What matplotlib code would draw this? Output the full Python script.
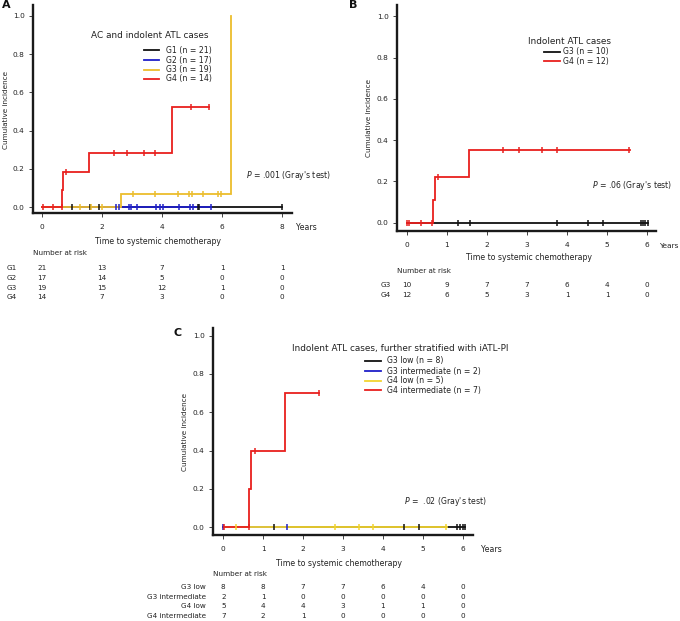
import matplotlib
matplotlib.use('Agg')
import matplotlib.pyplot as plt
import numpy as np
from matplotlib.transforms import blended_transform_factory

plt.rcParams['font.family'] = ['DejaVu Sans']

# ---------------- data ----------------
# Panel A: AC and indolent ATL cases
A_names = ['G1 (n = 21)', 'G2 (n = 17)', 'G3 (n = 19)', 'G4 (n = 14)']
A_G1_t = [0.0];                         A_G1_v = [0.0];                         A_G1_end = 8.0
A_G1_cens = [1.0, 1.6, 1.9, 5.2, 5.25, 8.0]
A_G2_t = [0.0];                         A_G2_v = [0.0];                         A_G2_end = 5.62
A_G2_cens = [2.47, 2.58, 2.89, 2.96, 3.16, 3.8, 3.93, 4.05, 4.58, 4.93, 5.02, 5.62]
A_G3_t = [0.0, 2.64, 6.29];             A_G3_v = [0.0, 0.066, 1.0];             A_G3_end = 6.29
A_G3_cens = [1.27, 1.65, 2.0, 3.02, 3.77, 4.53, 4.91, 5.0, 5.36, 5.87, 5.96]
A_G4_t = [0.0, 0.67, 0.70, 1.56, 4.33]; A_G4_v = [0.0, 0.09, 0.183, 0.283, 0.524]; A_G4_end = 5.58
A_G4_cens = [0.02, 0.36, 0.65, 0.8, 2.4, 2.82, 3.4, 3.76, 4.96, 5.56]
A_risk_times = [0, 2, 4, 6, 8]
A_risk_rows = ['G1', 'G2', 'G3', 'G4']
A_risk_G1 = [21, 13, 7, 1, 1]
A_risk_G2 = [17, 14, 5, 0, 0]
A_risk_G3 = [19, 15, 12, 1, 0]
A_risk_G4 = [14, 7, 3, 0, 0]

# Panel B: Indolent ATL cases
B_names = ['G3 (n = 10)', 'G4 (n = 12)']
B_G3_t = [0.0];                          B_G3_v = [0.0];                          B_G3_end = 6.03
B_G3_cens = [1.28, 1.58, 3.76, 4.53, 4.9, 5.84, 5.9, 5.96, 6.02]
B_G4_t = [0.0, 0.66, 0.69, 1.55];        B_G4_v = [0.0, 0.109, 0.222, 0.352];     B_G4_end = 5.57
B_G4_cens = [0.0, 0.05, 0.34, 0.63, 0.78, 2.4, 2.8, 3.38, 3.74, 5.56]
B_risk_times = [0, 1, 2, 3, 4, 5, 6]
B_risk_rows = ['G3', 'G4']
B_risk_G3 = [10, 9, 7, 7, 6, 4, 0]
B_risk_G4 = [12, 6, 5, 3, 1, 1, 0]

# Panel C: Indolent ATL cases stratified with iATL-PI
C_names = ['G3 low (n = 8)', 'G3 intermediate (n = 2)', 'G4 low (n = 5)', 'G4 intermediate (n = 7)']
C_G3l_t = [0.0];                         C_G3l_v = [0.0];                         C_G3l_end = 6.05
C_G3l_cens = [1.27, 4.54, 4.91, 5.86, 5.92, 6.0, 6.05]
C_G3i_t = [0.0];                         C_G3i_v = [0.0];                         C_G3i_end = 1.59
C_G3i_cens = [0.0, 1.59]
C_G4l_t = [0.0];                         C_G4l_v = [0.0];                         C_G4l_end = 5.6
C_G4l_cens = [0.33, 2.79, 3.39, 3.76, 5.58]
C_G4i_t = [0.0, 0.65, 0.70, 1.55];       C_G4i_v = [0.0, 0.2, 0.4, 0.7];          C_G4i_end = 2.41
C_G4i_cens = [0.02, 0.64, 0.79, 2.41]
C_risk_times = [0, 1, 2, 3, 4, 5, 6]
C_risk_rows = ['G3 low', 'G3 intermediate', 'G4 low', 'G4 intermediate']
C_risk_G3l = [8, 8, 7, 7, 6, 4, 0]
C_risk_G3i = [2, 1, 0, 0, 0, 0, 0]
C_risk_G4l = [5, 4, 4, 3, 1, 1, 0]
C_risk_G4i = [7, 2, 1, 0, 0, 0, 0]

# ---------------- styling ----------------
BLACK = '#111111'
BLUE = '#1f1fc8'
YELLOW_A = '#ecbd2c'
YELLOW_C = '#f2d430'
RED = '#e8201e'
TXT = '#222222'

W, H = 680, 621
fig = plt.figure(figsize=(W / 100, H / 100), dpi=100)
fig.patch.set_facecolor('white')

ov = fig.add_axes([0, 0, 1, 1], zorder=10)
ov.set_xlim(0, W)
ov.set_ylim(H, 0)
ov.axis('off')


def px_axes(left, top, right, bottom):
    ax = fig.add_axes([left / W, 1 - bottom / H, (right - left) / W, (bottom - top) / H])
    ax.patch.set_alpha(0)
    for s in ['top', 'right']:
        ax.spines[s].set_visible(False)
    for s in ['left', 'bottom']:
        ax.spines[s].set_linewidth(1.7)
        ax.spines[s].set_color('#1a1a1a')
    ax.tick_params(axis='both', direction='out', length=3, width=0.7, color='#444444',
                   labelsize=5.3, labelcolor=TXT)
    ax.tick_params(axis='x', pad=5)
    ax.tick_params(axis='y', pad=3)
    ax.set_yticks([0, 0.2, 0.4, 0.6, 0.8, 1.0])
    ax.set_yticklabels(['0.0', '0.2', '0.4', '0.6', '0.8', '1.0'])
    return ax


def draw_curves(ax, series):
    for t, v, end, cens, col in series:
        xs = list(t) + [end]
        ys = list(v) + [v[-1]]
        ax.step(xs, ys, where='post', color=col, lw=1.3, solid_joinstyle='miter', clip_on=False)
    for t, v, end, cens, col in series:
        c = np.asarray(cens)
        idx = np.searchsorted(np.asarray(t), c, side='right') - 1
        cy = np.asarray(v)[idx]
        ax.plot(c, cy, ls='none', marker='|', ms=4.8, mew=1.1, color=col, clip_on=False)


def legend(title, title_xy, title_ha, names, colors, line_x0, line_x1, text_x, ys):
    ov.text(title_xy[0], title_xy[1], title, ha=title_ha, va='center', fontsize=6.4, color=TXT)
    for name, col, y in zip(names, colors, ys):
        ov.plot([line_x0, line_x1], [y, y], color=col, lw=1.3)
        ov.text(text_x, y, name, ha='left', va='center', fontsize=5.6, color=TXT)


def risk_table(ax, times, rows, values, label_x, label_ha, title_x, title_y, row_ys):
    tr = blended_transform_factory(ax.transData, ov.transData)
    ov.text(title_x, title_y, 'Number at risk', ha='left', va='center', fontsize=5.2, color=TXT)
    for r, vals, y in zip(rows, values, row_ys):
        ov.text(label_x, y, r, ha=label_ha, va='center', fontsize=5.2, color=TXT)
        for tt, n in zip(times, vals):
            ov.text(tt, y, str(n), ha='center', va='center', fontsize=5.2, color=TXT, transform=tr)


# ---------------- Panel A ----------------
axA = px_axes(33, 5, 292, 213)
axA.set_xlim((33 - 42) / 30, (292 - 42) / 30)
axA.set_ylim(-(213 - 207) / 191, (207 - 5) / 191)
axA.set_xticks(A_risk_times)
draw_curves(axA, [
    (A_G1_t, A_G1_v, A_G1_end, A_G1_cens, BLACK),
    (A_G2_t, A_G2_v, A_G2_end, A_G2_cens, BLUE),
    (A_G3_t, A_G3_v, A_G3_end, A_G3_cens, YELLOW_A),
    (A_G4_t, A_G4_v, A_G4_end, A_G4_cens, RED),
])
ov.text(6, 5, 'A', ha='center', va='center', fontsize=8, fontweight='bold', color='#111111')
ov.text(6, 110, 'Cumulative incidence', rotation=90, ha='center', va='center', fontsize=5.2, color=TXT)
ov.text(158, 242, 'Time to systemic chemotherapy', ha='center', va='center', fontsize=5.6, color=TXT)
ov.text(296, 228, 'Years', ha='left', va='center', fontsize=5.6, color=TXT)
ov.text(245.5, 176, r"$\mathit{P}$ = .001 (Gray's test)", ha='left', va='center', fontsize=5.6, color=TXT)
legend('AC and indolent ATL cases', (150, 36), 'center', A_names,
       [BLACK, BLUE, YELLOW_A, RED], 144, 159, 165.5, [50, 60, 69.5, 79])
risk_table(axA, A_risk_times, A_risk_rows, [A_risk_G1, A_risk_G2, A_risk_G3, A_risk_G4],
           7, 'left', 33, 253, [268.3, 278, 287.7, 297.3])

# ---------------- Panel B ----------------
axB = px_axes(397, 5, 656, 231)
axB.set_xlim((397 - 407) / 40, (656 - 407) / 40)
axB.set_ylim(-(231 - 222.7) / 206.5, (222.7 - 5) / 206.5)
axB.set_xticks(B_risk_times)
draw_curves(axB, [
    (B_G3_t, B_G3_v, B_G3_end, B_G3_cens, BLACK),
    (B_G4_t, B_G4_v, B_G4_end, B_G4_cens, RED),
])
ov.text(353, 5, 'B', ha='center', va='center', fontsize=8, fontweight='bold', color='#111111')
ov.text(369, 118, 'Cumulative incidence', rotation=90, ha='center', va='center', fontsize=5.2, color=TXT)
ov.text(529, 258, 'Time to systemic chemotherapy', ha='center', va='center', fontsize=5.6, color=TXT)
ov.text(678.5, 246, 'Years', ha='right', va='center', fontsize=5.3, color=TXT)
ov.text(592, 186, r"$\mathit{P}$ = .06 (Gray's test)", ha='left', va='center', fontsize=5.6, color=TXT)
legend('Indolent ATL cases', (569, 41.7), 'center', B_names,
       [BLACK, RED], 543.5, 560, 563, [51.7, 61.3])
risk_table(axB, B_risk_times, B_risk_rows, [B_risk_G3, B_risk_G4],
           391, 'right', 396.7, 271, [285.3, 295.3])

# ---------------- Panel C ----------------
axC = px_axes(213, 328, 473, 535)
axC.set_xlim((213 - 223.3) / 39.9, (473 - 223.3) / 39.9)
axC.set_ylim(-(535 - 527.3) / 191.7, (527.3 - 328) / 191.7)
axC.set_xticks(C_risk_times)
draw_curves(axC, [
    (C_G3l_t, C_G3l_v, C_G3l_end, C_G3l_cens, BLACK),
    (C_G3i_t, C_G3i_v, C_G3i_end, C_G3i_cens, BLUE),
    (C_G4l_t, C_G4l_v, C_G4l_end, C_G4l_cens, YELLOW_C),
    (C_G4i_t, C_G4i_v, C_G4i_end, C_G4i_cens, RED),
])
ov.text(178, 333, 'C', ha='center', va='center', fontsize=8, fontweight='bold', color='#111111')
ov.text(185, 432, 'Cumulative incidence', rotation=90, ha='center', va='center', fontsize=5.2, color=TXT)
ov.text(339.5, 564, 'Time to systemic chemotherapy', ha='center', va='center', fontsize=5.6, color=TXT)
ov.text(481, 549, 'Years', ha='left', va='center', fontsize=5.6, color=TXT)
ov.text(404, 501.7, r"$\mathit{P}$ =  .02 (Gray's test)", ha='left', va='center', fontsize=5.6, color=TXT)
legend('Indolent ATL cases, further stratified with iATL-PI', (292.3, 348.3), 'left', C_names,
       [BLACK, BLUE, YELLOW_C, RED], 365, 380.7, 386.7, [361, 371.3, 380.7, 390.3])
risk_table(axC, C_risk_times, C_risk_rows, [C_risk_G3l, C_risk_G3i, C_risk_G4l, C_risk_G4i],
           206, 'right', 213.3, 574.3, [586.7, 596.7, 606, 616])

fig.savefig('out.png', dpi=100, facecolor='white')
